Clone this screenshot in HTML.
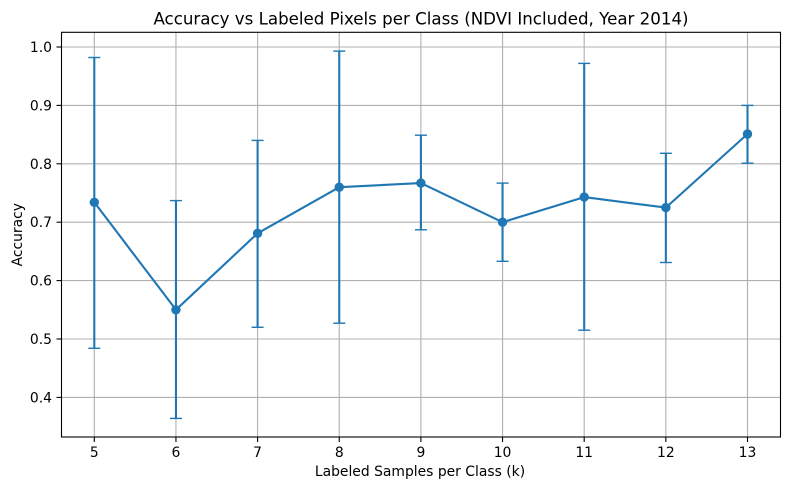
<!DOCTYPE html>
<html><head><meta charset="utf-8"><style>
html,body{margin:0;padding:0;background:#fff;}
svg{display:block;}
text{font-family:"DejaVu Sans","Liberation Sans",sans-serif;fill:#000;}
</style></head><body>
<svg width="790" height="490" viewBox="0 0 790 490" xmlns="http://www.w3.org/2000/svg">
<rect width="790" height="490" fill="#fff"/>
<!-- grid -->
<g stroke="#b0b0b0" stroke-width="1.1">
<line x1="94.3" y1="32.3" x2="94.3" y2="437"/>
<line x1="175.95" y1="32.3" x2="175.95" y2="437"/>
<line x1="257.6" y1="32.3" x2="257.6" y2="437"/>
<line x1="339.25" y1="32.3" x2="339.25" y2="437"/>
<line x1="420.9" y1="32.3" x2="420.9" y2="437"/>
<line x1="502.55" y1="32.3" x2="502.55" y2="437"/>
<line x1="584.2" y1="32.3" x2="584.2" y2="437"/>
<line x1="665.85" y1="32.3" x2="665.85" y2="437"/>
<line x1="747.5" y1="32.3" x2="747.5" y2="437"/>
<line x1="61.5" y1="47" x2="780.5" y2="47"/>
<line x1="61.5" y1="105.4" x2="780.5" y2="105.4"/>
<line x1="61.5" y1="163.8" x2="780.5" y2="163.8"/>
<line x1="61.5" y1="222.2" x2="780.5" y2="222.2"/>
<line x1="61.5" y1="280.6" x2="780.5" y2="280.6"/>
<line x1="61.5" y1="339" x2="780.5" y2="339"/>
<line x1="61.5" y1="397.4" x2="780.5" y2="397.4"/>
</g>
<!-- error bars -->
<g stroke="#1f77b4" stroke-width="2.1" fill="none">
<line x1="94.3" y1="57.5" x2="94.3" y2="348.3"/>
<line x1="175.95" y1="200.6" x2="175.95" y2="418.4"/>
<line x1="257.6" y1="140.4" x2="257.6" y2="327.3"/>
<line x1="339.25" y1="51.1" x2="339.25" y2="323.2"/>
<line x1="420.9" y1="135.2" x2="420.9" y2="229.8"/>
<line x1="502.55" y1="183.1" x2="502.55" y2="261.3"/>
<line x1="584.2" y1="63.4" x2="584.2" y2="330.2"/>
<line x1="665.85" y1="153.3" x2="665.85" y2="262.5"/>
<line x1="747.5" y1="105.4" x2="747.5" y2="163.2"/>
</g>
<g stroke="#1f77b4" stroke-width="1.4" fill="none">
<line x1="88.3" y1="57.5" x2="100.3" y2="57.5"/><line x1="88.3" y1="348.3" x2="100.3" y2="348.3"/>
<line x1="169.95" y1="200.6" x2="181.95" y2="200.6"/><line x1="169.95" y1="418.4" x2="181.95" y2="418.4"/>
<line x1="251.6" y1="140.4" x2="263.6" y2="140.4"/><line x1="251.6" y1="327.3" x2="263.6" y2="327.3"/>
<line x1="333.25" y1="51.1" x2="345.25" y2="51.1"/><line x1="333.25" y1="323.2" x2="345.25" y2="323.2"/>
<line x1="414.9" y1="135.2" x2="426.9" y2="135.2"/><line x1="414.9" y1="229.8" x2="426.9" y2="229.8"/>
<line x1="496.55" y1="183.1" x2="508.55" y2="183.1"/><line x1="496.55" y1="261.3" x2="508.55" y2="261.3"/>
<line x1="578.2" y1="63.4" x2="590.2" y2="63.4"/><line x1="578.2" y1="330.2" x2="590.2" y2="330.2"/>
<line x1="659.85" y1="153.3" x2="671.85" y2="153.3"/><line x1="659.85" y1="262.5" x2="671.85" y2="262.5"/>
<line x1="741.5" y1="105.4" x2="753.5" y2="105.4"/><line x1="741.5" y1="163.2" x2="753.5" y2="163.2"/>
</g>
<!-- line -->
<polyline fill="none" stroke="#1f77b4" stroke-width="2.1" stroke-linejoin="round" points="94.3,202.3 175.95,309.8 257.6,233.3 339.25,187.2 420.9,183.1 502.55,222.2 584.2,197.1 665.85,207.6 747.5,134.0"/>
<g fill="#1f77b4">
<circle cx="94.3" cy="202.3" r="4.7"/>
<circle cx="175.95" cy="309.8" r="4.7"/>
<circle cx="257.6" cy="233.3" r="4.7"/>
<circle cx="339.25" cy="187.2" r="4.7"/>
<circle cx="420.9" cy="183.1" r="4.7"/>
<circle cx="502.55" cy="222.2" r="4.7"/>
<circle cx="584.2" cy="197.1" r="4.7"/>
<circle cx="665.85" cy="207.6" r="4.7"/>
<circle cx="747.5" cy="134.0" r="4.7"/>
</g>
<!-- axes box -->
<rect x="61.5" y="32.3" width="719" height="404.7" fill="none" stroke="#000" stroke-width="1.1"/>
<!-- ticks -->
<g stroke="#000" stroke-width="1.1">
<line x1="94.3" y1="437" x2="94.3" y2="442"/>
<line x1="175.95" y1="437" x2="175.95" y2="442"/>
<line x1="257.6" y1="437" x2="257.6" y2="442"/>
<line x1="339.25" y1="437" x2="339.25" y2="442"/>
<line x1="420.9" y1="437" x2="420.9" y2="442"/>
<line x1="502.55" y1="437" x2="502.55" y2="442"/>
<line x1="584.2" y1="437" x2="584.2" y2="442"/>
<line x1="665.85" y1="437" x2="665.85" y2="442"/>
<line x1="747.5" y1="437" x2="747.5" y2="442"/>
<line x1="56.5" y1="47" x2="61.5" y2="47"/>
<line x1="56.5" y1="105.4" x2="61.5" y2="105.4"/>
<line x1="56.5" y1="163.8" x2="61.5" y2="163.8"/>
<line x1="56.5" y1="222.2" x2="61.5" y2="222.2"/>
<line x1="56.5" y1="280.6" x2="61.5" y2="280.6"/>
<line x1="56.5" y1="339" x2="61.5" y2="339"/>
<line x1="56.5" y1="397.4" x2="61.5" y2="397.4"/>
</g>
<g font-size="13.9" text-anchor="middle">
<text x="94.3" y="457">5</text>
<text x="175.95" y="457">6</text>
<text x="257.6" y="457">7</text>
<text x="339.25" y="457">8</text>
<text x="420.9" y="457">9</text>
<text x="502.55" y="457">10</text>
<text x="584.2" y="457">11</text>
<text x="665.85" y="457">12</text>
<text x="747.5" y="457">13</text>
</g>
<g font-size="13.9" text-anchor="end">
<text x="52" y="52">1.0</text>
<text x="52" y="110.4">0.9</text>
<text x="52" y="168.8">0.8</text>
<text x="52" y="227.2">0.7</text>
<text x="52" y="285.6">0.6</text>
<text x="52" y="344">0.5</text>
<text x="52" y="402.4">0.4</text>
</g>
<text x="420" y="476" font-size="13.9" text-anchor="middle">Labeled Samples per Class (k)</text>
<text x="22" y="234.7" font-size="13.9" text-anchor="middle" transform="rotate(-90 22 234.7)">Accuracy</text>
<text x="421" y="24.5" font-size="16.67" text-anchor="middle">Accuracy vs Labeled Pixels per Class (NDVI Included, Year 2014)</text>
</svg>
</body></html>
